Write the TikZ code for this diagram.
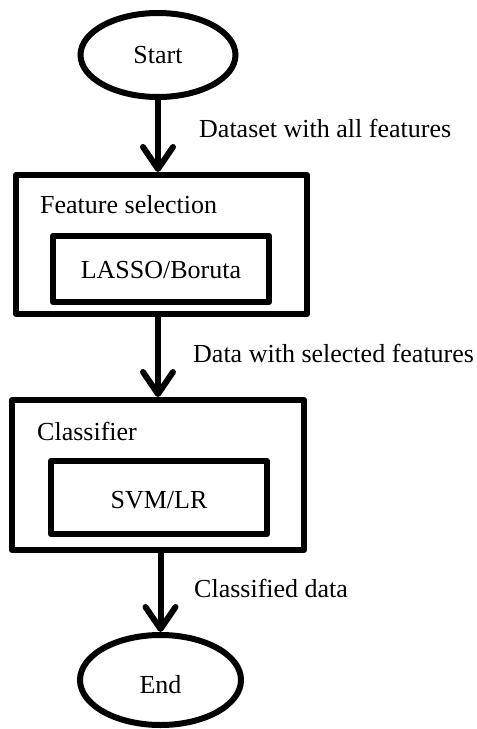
\documentclass[tikz,border=0pt]{standalone}
\usepackage{fontspec}
\setmainfont{Liberation Serif}
\usetikzlibrary{shapes.geometric,arrows.meta}
\begin{document}
\begin{tikzpicture}[x=1bp,y=-1bp,
  every node/.style={font=\fontsize{26bp}{30bp}\selectfont},
  term/.style={draw,ellipse,line width=6bp,inner sep=0pt},
  outerbox/.style={draw,rectangle,line width=6bp,line join=round,inner sep=0pt},
  innerbox/.style={draw,rectangle,line width=6bp,line join=round,inner sep=0pt},
  lbl/.style={anchor=base west,inner sep=0pt},
  flow/.style={line width=6bp,-{Straight Barb[length=22bp,width=30bp,round]}}]
\useasboundingbox (0,0) rectangle (477,729);
\node[term,minimum width=155bp,minimum height=84bp] (start) at (158,55) {};
\node[anchor=base] (starttxt) at (158,64) {Start};
\node[outerbox,minimum width=291bp,minimum height=139bp] (fs) at (161.5,244.5) {};
\node[lbl] (fstxt) at (40,213) {Feature selection};
\node[innerbox,minimum width=216bp,minimum height=66bp] (lasso) at (161,269) {};
\node[anchor=base] (lassotxt) at (161,278) {LASSO/Boruta};
\node[outerbox,minimum width=292bp,minimum height=150bp] (cls) at (158,475) {};
\node[lbl] (clstxt) at (37,440) {Classifier};
\node[innerbox,minimum width=216bp,minimum height=73bp] (svm) at (159,497.5) {};
\node[anchor=base] (svmtxt) at (159,508) {SVM/LR};
\node[term,minimum width=161bp,minimum height=90bp] (end) at (160.5,680) {};
\node[anchor=base] (endtxt) at (160.5,693) {End};
\node[lbl] (l1) at (199,138) {Dataset with all features};
\node[lbl] (l2) at (193,362) {Data with selected features};
\node[lbl] (l3) at (194,597) {Classified data};
\draw[flow] (start.south) -- (start.south |- fs.north);
\draw[flow] (fs.south -| start.south) -- (cls.north -| start.south);
\draw[flow] (cls.south -| end.north) -- (end.north);
\end{tikzpicture}
\end{document}
